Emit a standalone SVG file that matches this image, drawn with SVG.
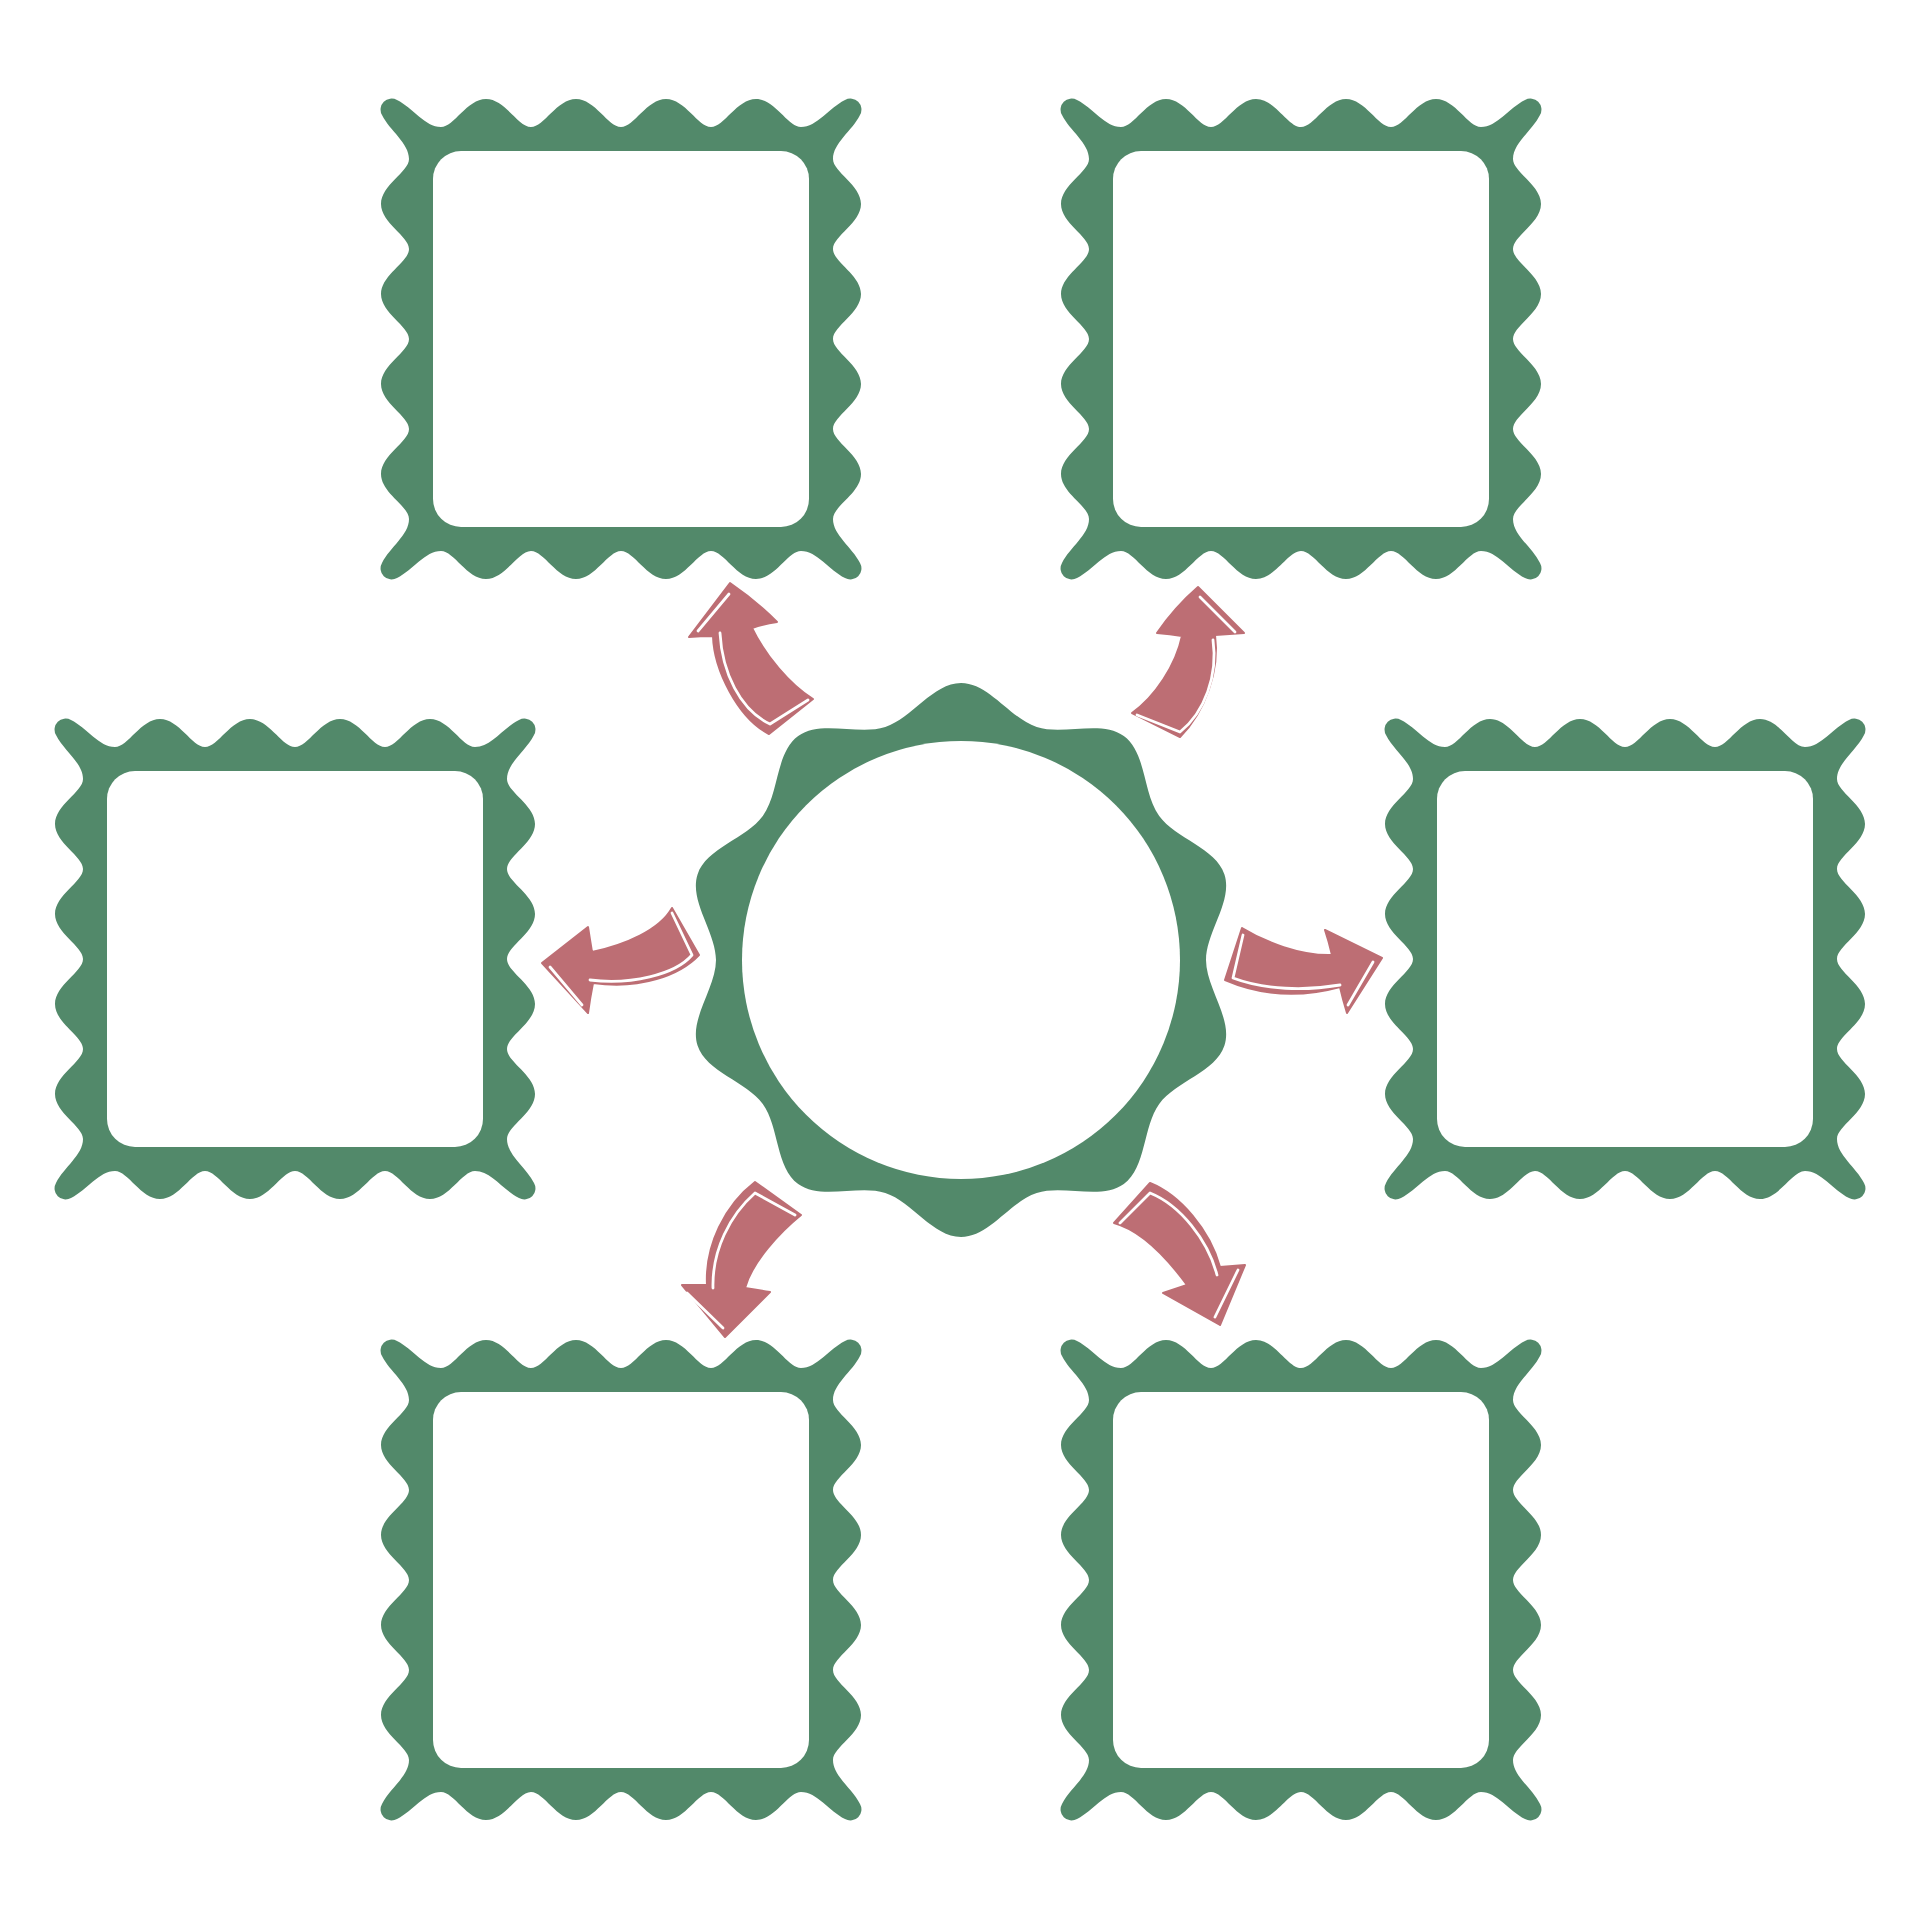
<svg xmlns="http://www.w3.org/2000/svg" xmlns:xlink="http://www.w3.org/1999/xlink" width="1920" height="1920" viewBox="0 0 1920 1920">
<defs>
<style>
.stamp{fill:#52896A}
.hole{fill:#FFFFFF}
.arrow{fill:#BD6E74;stroke:#BD6E74;stroke-width:2;stroke-linejoin:round}
.hl{fill:none;stroke:#FFFFFF;stroke-width:2.8;stroke-linecap:round;stroke-linejoin:round}
</style>
<g id="stamp-shape">
<path class="stamp" d="M 16,1 C 32,9 44,28 60,28 C 73,28 86,0 105,0 C 124,0 137,28 150,28 C 163,28 176,0 195,0 C 214,0 227,28 240,28 C 253,28 266,0 285,0 C 304,0 317,28 330,28 C 343,28 356,0 375,0 C 394,0 407,28 420,28 C 436,28 448,9 464,1 A 11 11 0 0 1 479,16 C 471,32 452,44 452,60 C 452,73 480,86 480,105 C 480,124 452,137 452,150 C 452,163 480,176 480,195 C 480,214 452,227 452,240 C 452,253 480,266 480,285 C 480,304 452,317 452,330 C 452,343 480,356 480,375 C 480,394 452,407 452,420 C 452,436 471,448 479,464 A 11 11 0 0 1 464,479 C 448,471 436,452 420,452 C 407,452 394,480 375,480 C 356,480 343,452 330,452 C 317,452 304,480 285,480 C 266,480 253,452 240,452 C 227,452 214,480 195,480 C 176,480 163,452 150,452 C 137,452 124,480 105,480 C 86,480 73,452 60,452 C 44,452 32,471 16,479 A 11 11 0 0 1 1,464 C 9,448 28,436 28,420 C 28,407 0,394 0,375 C 0,356 28,343 28,330 C 28,317 0,304 0,285 C 0,266 28,253 28,240 C 28,227 0,214 0,195 C 0,176 28,163 28,150 C 28,137 0,124 0,105 C 0,86 28,73 28,60 C 28,44 9,32 1,16 A 11 11 0 0 1 16,1 Z"/>
<rect class="hole" x="52" y="52" width="376" height="376" rx="28" ry="28"/>
</g>
</defs>
<rect x="0" y="0" width="1920" height="1920" fill="#FFFFFF"/>

<g id="node-top-left"><use href="#stamp-shape" transform="translate(381,99)"/></g>
<g id="node-top-right"><use href="#stamp-shape" transform="translate(1061,99)"/></g>
<g id="node-middle-left"><use href="#stamp-shape" transform="translate(55,719)"/></g>
<g id="node-middle-right"><use href="#stamp-shape" transform="translate(1385,719)"/></g>
<g id="node-bottom-left"><use href="#stamp-shape" transform="translate(381,1340)"/></g>
<g id="node-bottom-right"><use href="#stamp-shape" transform="translate(1061,1340)"/></g>

<g id="node-center">
<path class="stamp" d="M 1206,960 C 1206,932 1233.1,901.04 1224.45,874.41 C 1215.8,847.78 1175.66,838.64 1159.2,815.99 C 1142.74,793.34 1146.47,752.37 1123.82,735.91 C 1101.17,719.45 1063.34,735.63 1036.71,726.98 C 1010.08,718.33 989,683 961,683 C 933,683 911.920,718.33 885.29,726.98 C 858.66,735.63 820.83,719.45 798.18,735.91 C 775.53,752.37 779.26,793.34 762.8,815.99 C 746.34,838.64 706.2,847.78 697.55,874.41 C 688.9,901.04 716,932 716,960 C 716,988 688.9,1018.96 697.55,1045.59 C 706.2,1072.22 746.34,1081.36 762.8,1104.01 C 779.26,1126.66 775.53,1167.63 798.18,1184.09 C 820.83,1200.55 858.66,1184.37 885.29,1193.02 C 911.92,1201.67 933,1237 961,1237 C 989,1237 1010.08,1201.67 1036.71,1193.02 C 1063.34,1184.37 1101.17,1200.55 1123.82,1184.09 C 1146.47,1167.63 1142.74,1126.66 1159.2,1104.01 C 1175.66,1081.36 1215.8,1072.22 1224.45,1045.59 C 1233.1,1018.96 1206,988 1206,960 Z"/>
<circle class="hole" cx="961" cy="960" r="219"/>
</g>

<g id="connectors">
<g id="arrow-top-left">
<path class="arrow" d="M 730,583 L 689,637 Q 700,636 713,636 C 714,670 738,718 769,734 L 813,699 C 790,685 765,655 752,628 Q 764,624 777,622 Q 755,600 730,583 Z"/>
<path class="hl" d="M 729,594 L 698,631"/>
<path class="hl" d="M 720,633 C 722,672 740,710 770,724 L 808,700"/>
</g>
<g id="arrow-top-right">
<path class="arrow" d="M 1198,587 L 1244,633 Q 1230,634 1215,635 C 1220,670 1205,712 1180,737 L 1132,713 C 1155,697 1176,665 1182,636 Q 1170,634 1157,633 Q 1175,607 1198,587 Z"/>
<path class="hl" d="M 1200,597 L 1235,632"/>
<path class="hl" d="M 1213,640 C 1218,675 1205,712 1180,732 L 1137,715"/>
</g>
<g id="arrow-left">
<path class="arrow" d="M 542,963 L 588,927 Q 590,940 592,952 C 625,945 660,930 672,908 L 699,955 C 680,975 640,990 593,983 Q 590,998 588,1013 Z"/>
<path class="hl" d="M 550,967 L 582,1005"/>
<path class="hl" d="M 590,980 C 630,985 675,975 692,955 L 672,913"/>
</g>
<g id="arrow-right">
<path class="arrow" d="M 1242,928 C 1265,942 1300,956 1332,955 Q 1329,942 1325,930 L 1382,958 L 1347,1013 Q 1343,1000 1340,987 C 1300,998 1260,995 1225,980 Z"/>
<path class="hl" d="M 1373,962 L 1348,1005"/>
<path class="hl" d="M 1243,935 L 1233,978 C 1265,990 1305,991 1340,985"/>
</g>
<g id="arrow-bottom-left">
<path class="arrow" d="M 755,1182 L 801,1215 C 780,1232 752,1262 745,1288 Q 758,1290 770,1292 L 725,1337 L 682,1285 Q 694,1285 707,1285 C 705,1245 725,1205 755,1182 Z"/>
<path class="hl" d="M 687,1293 L 723,1328"/>
<path class="hl" d="M 795,1215 L 755,1193 C 730,1215 712,1250 713,1288"/>
</g>
<g id="arrow-bottom-right">
<path class="arrow" d="M 1150,1183 C 1180,1195 1210,1230 1220,1267 Q 1232,1266 1245,1265 L 1220,1325 L 1163,1293 Q 1175,1289 1187,1285 C 1165,1255 1140,1230 1114,1223 Z"/>
<path class="hl" d="M 1238,1270 L 1215,1317"/>
<path class="hl" d="M 1120,1223 L 1150,1193 C 1180,1205 1208,1240 1217,1275"/>
</g>
</g>
</svg>
